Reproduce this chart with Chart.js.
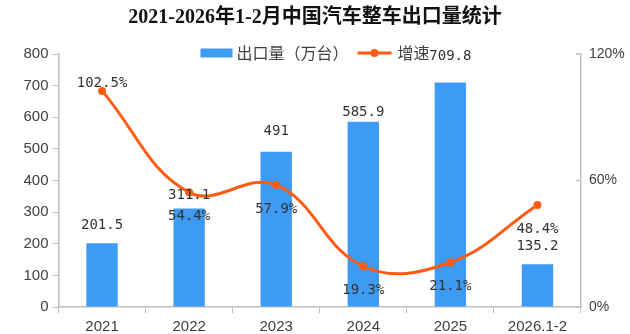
<!DOCTYPE html>
<html>
<head>
<meta charset="utf-8">
<script src="https://cdn.jsdelivr.net/npm/chart.js@4/dist/chart.umd.min.js"></script>
<style>
  html, body { margin: 0; padding: 0; background: #fff; }
  #wrap { width: 630px; height: 334px; position: relative; }
</style>
</head>
<body>
<div id="wrap"><canvas id="grafico"></canvas></div>
<script>
// Dados
const categorias = ["2021", "2022", "2023", "2024", "2025", "2026.1-2"]
const exportacao = [201.5, 311.1, 491, 585.9, 709.8, 135.2]
const crescimento = [102.5, 54.4, 57.9, 19.3, 21.1, 48.4]
const ticksEsquerda = [0, 100, 200, 300, 400, 500, 600, 700, 800]
const ticksDireita = [0, 60, 120]

const titulo = "2021-2026年1-2月中国汽车整车出口量统计"
const nomeBarra = "出口量（万台）"
const nomeLinha = "增速"

// Estilo
const corBarra = "#3E9BF3"
const corLinha = "#FF5C12"
const corEixo = "#BFBFBF"
const corTexto = "#404040"
const fonteTick = "'Liberation Sans', Arial, sans-serif"
const fonteRotulo = "'DejaVu Sans Mono', monospace"
const fonteCJK = "'Noto Sans CJK SC', sans-serif"

// deslocamentos dos rótulos (px)
const elevaRotuloBarra = [18, 13, 20, 9, 26, 18]
const desviaRotuloLinha = [-8, 24, 24, 24, 24, 24]

// Plugin: título, legenda, rótulos e marcas do eixo direito
const pluginTextos = {
  id: "textos",
  afterDatasetsDraw(chart) {
    const ctx = chart.ctx
    ctx.save()
    // marcas internas do eixo direito
    const eixo2 = chart.scales.y2
    ctx.strokeStyle = corEixo
    ctx.lineWidth = 1.5
    ticksDireita.forEach(v => {
      const yy = eixo2.getPixelForValue(v)
      ctx.beginPath()
      ctx.moveTo(eixo2.left - 5, yy)
      ctx.lineTo(eixo2.left, yy)
      ctx.stroke()
    })

    // rótulos
    ctx.font = "14px " + fonteRotulo
    ctx.fillStyle = "#333"
    ctx.textAlign = "center"
    ctx.textBaseline = "middle"
    const barras = chart.getDatasetMeta(1).data
    barras.forEach((b, i) => {
      ctx.fillText(String(exportacao[i]), b.x, b.y - elevaRotuloBarra[i])
    })
    const pontos = chart.getDatasetMeta(0).data
    pontos.forEach((p, i) => {
      ctx.fillText(crescimento[i] + "%", p.x, p.y + desviaRotuloLinha[i])
    })

    // título
    ctx.font = "bold 20px 'Liberation Serif', " + fonteCJK
    ctx.fillStyle = "#111"
    ctx.fillText(titulo, chart.width / 2, 18)

    // legenda
    ctx.font = "16px " + fonteCJK
    const w1 = ctx.measureText(nomeBarra).width
    const w2 = ctx.measureText(nomeLinha).width
    const total = 32 + 4 + w1 + 9 + 34 + 6 + w2
    let x = chart.width / 2 - total / 2
    const y = 53
    ctx.fillStyle = corBarra
    ctx.fillRect(x, y - 4.5, 32, 9)
    x += 36
    ctx.fillStyle = corTexto
    ctx.textAlign = "left"
    ctx.fillText(nomeBarra, x, y)
    x += w1 + 9
    ctx.strokeStyle = corLinha
    ctx.lineWidth = 3
    ctx.beginPath()
    ctx.moveTo(x, y)
    ctx.lineTo(x + 34, y)
    ctx.stroke()
    ctx.fillStyle = corLinha
    ctx.beginPath()
    ctx.arc(x + 17, y, 4, 0, Math.PI * 2)
    ctx.fill()
    x += 40
    ctx.fillStyle = corTexto
    ctx.fillText(nomeLinha, x, y)
    ctx.restore()
  }
}

const ctxGrafico = document.getElementById("grafico").getContext("2d")
new Chart(ctxGrafico, {
  data: {
    labels: categorias,
    datasets: [
      {
        type: "line",
        label: nomeLinha,
        data: crescimento,
        yAxisID: "y2",
        borderColor: corLinha,
        backgroundColor: corLinha,
        borderWidth: 3,
        pointRadius: 4,
        pointBackgroundColor: corLinha,
        pointBorderWidth: 0,
        tension: 0.4,
        order: 0
      },
      {
        type: "bar",
        label: nomeBarra,
        data: exportacao,
        yAxisID: "y",
        backgroundColor: corBarra,
        barPercentage: 0.36,
        categoryPercentage: 1,
        order: 1
      }
    ]
  },
  options: {
    responsive: true,
    maintainAspectRatio: false,
    animation: false,
    layout: { padding: { top: 54, left: 0, right: 0, bottom: 0 } },
    plugins: {
      legend: { display: false },
      title: { display: false },
      tooltip: { enabled: false }
    },
    scales: {
      x: {
        offset: true,
        grid: { offset: true, drawOnChartArea: false, tickLength: 6, color: corEixo },
        border: { color: corEixo, width: 1.5 },
        ticks: { color: corTexto, font: { size: 15, family: fonteTick }, padding: 5, maxRotation: 0 },
        afterFit: s => { s.height = 27 }
      },
      y: {
        position: "left",
        min: 0,
        max: 800,
        afterBuildTicks: s => { s.ticks = ticksEsquerda.map(v => ({ value: v })) },
        grid: { drawOnChartArea: false, tickLength: 6, color: corEixo },
        border: { color: corEixo, width: 1.5 },
        ticks: { color: corTexto, font: { size: 15, family: fonteTick }, padding: 4 },
        afterFit: s => { s.width = 58.5 }
      },
      y2: {
        position: "right",
        min: 0,
        max: 120,
        afterBuildTicks: s => { s.ticks = ticksDireita.map(v => ({ value: v })) },
        grid: { drawOnChartArea: false, drawTicks: false },
        border: { color: corEixo, width: 1.5 },
        ticks: { color: corTexto, font: { size: 14, family: fonteTick }, padding: 8, callback: v => v + "%" },
        afterFit: s => { s.width = 49 }
      }
    }
  },
  plugins: [pluginTextos]
})
</script>
</body>
</html>
